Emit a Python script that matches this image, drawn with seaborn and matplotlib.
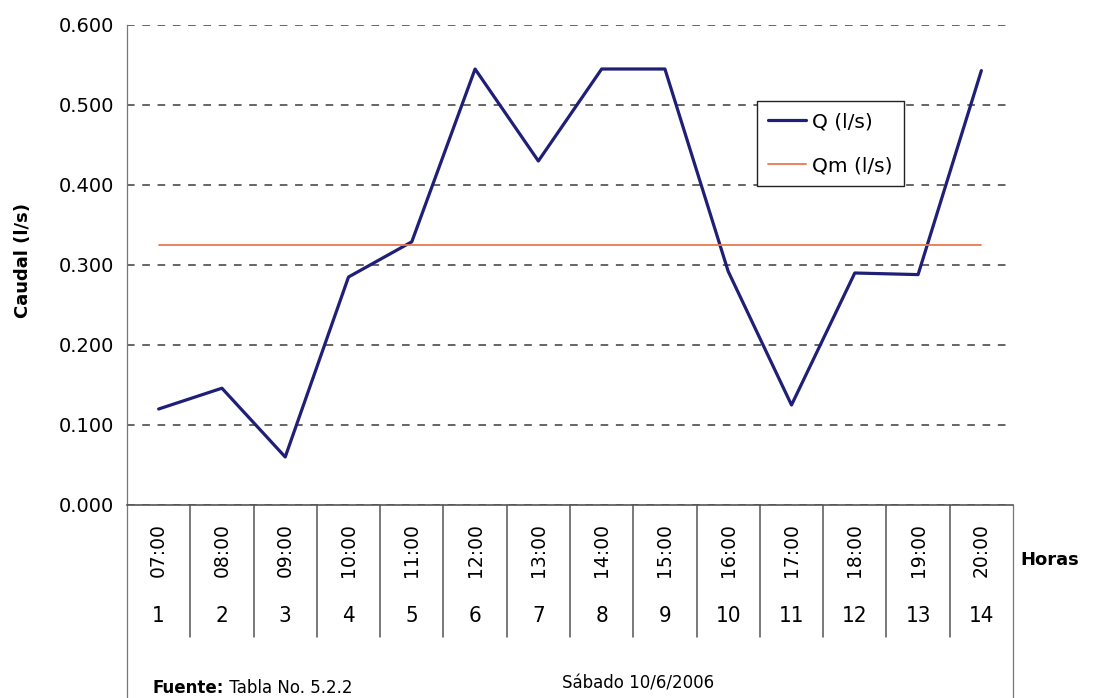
import matplotlib
matplotlib.use("Agg")
import pandas as pd
import matplotlib.pyplot as plt
import matplotlib.transforms as mtransforms
import seaborn as sns

# ----------------------
# Data
# ----------------------

hour_numbers = list(range(1, 15))
hour_labels = ["07:00", "08:00", "09:00", "10:00", "11:00", "12:00", "13:00",
               "14:00", "15:00", "16:00", "17:00", "18:00", "19:00", "20:00"]
q_values = [0.120, 0.146, 0.060, 0.285, 0.329, 0.545, 0.430,
            0.545, 0.545, 0.292, 0.125, 0.290, 0.288, 0.543]
qm_values = [0.325, 0.325, 0.325, 0.325, 0.325, 0.325, 0.325,
             0.325, 0.325, 0.325, 0.325, 0.325, 0.325, 0.325]
y_ticks = [0.0, 0.1, 0.2, 0.3, 0.4, 0.5, 0.6]

df = pd.DataFrame({"hora": hour_numbers, "Q": q_values, "Qm": qm_values})

# ----------------------
# Figure
# ----------------------

sns.set_style("white")
plt.rcParams["font.family"] = ["DejaVu Sans"]
plt.rcParams["text.color"] = "black"
plt.rcParams["ytick.labelcolor"] = "black"

W, H = 1094, 698
fig = plt.figure(figsize=(W / 100, H / 100), dpi=100)
ax = fig.add_axes([127 / W, (H - 505) / H, (1013 - 127) / W, 480 / H])

sns.lineplot(data=df, x="hora", y="Q", color="#1f1f78", linewidth=2.3,
             label="Q (l/s)", ax=ax)
sns.lineplot(data=df, x="hora", y="Qm", color="#e67a4e", linewidth=1.3,
             label="Qm (l/s)", ax=ax)

ax.set_xlim(0.5, 14.5)
ax.set_ylim(0, 0.6)
ax.set_yticks(y_ticks)
ax.set_yticklabels([f"{v:.3f}" for v in y_ticks], fontsize=14, color="black")
ax.set_xticks([])
ax.set_xlabel("")
ax.set_ylabel("")

# dashed horizontal gridlines
ax.yaxis.grid(True, linestyle=(0, (5, 5)), color="#3c3c3c", linewidth=1.1)
ax.set_axisbelow(True)
ax.tick_params(axis="y", direction="out", length=5, width=1, color="#4a4a4a", pad=4)

for side in ["top", "right"]:
    ax.spines[side].set_visible(False)
ax.spines["left"].set_color("#777777")
ax.spines["left"].set_linewidth(0.9)
ax.spines["bottom"].set_color("#555555")
ax.spines["bottom"].set_linewidth(1.2)

# legend
leg = ax.legend(loc="upper left", bbox_to_anchor=(757 / W, (H - 101) / H),
                bbox_transform=fig.transFigure, borderaxespad=0,
                fontsize=14.5, frameon=True, fancybox=False, framealpha=1,
                edgecolor="#222222", handlelength=1.9, handletextpad=0.3,
                labelspacing=1.25, borderpad=0.55)
leg.get_frame().set_linewidth(1.0)
for txt in leg.get_texts():
    txt.set_color("black")

# ----------------------
# Table under the axis
# ----------------------

trans = mtransforms.blended_transform_factory(ax.transData, fig.transFigure)
sep_bottom = (H - 637) / H
for k in range(1, 14):
    ax.plot([k + 0.5, k + 0.5], [(H - 505) / H, sep_bottom], transform=trans,
            color="#555555", linewidth=1.1, clip_on=False)
for xb in [0.5, 14.5]:
    ax.plot([xb, xb], [(H - 505) / H, 0], transform=trans,
            color="#777777", linewidth=0.9, clip_on=False)

for num, lab in zip(hour_numbers, hour_labels):
    ax.text(num, (H - 550) / H, lab, transform=trans, rotation=90,
            ha="center", va="center", fontsize=13.5)
    ax.text(num, (H - 616) / H, str(num), transform=trans,
            ha="center", va="center", fontsize=16, fontstretch="condensed")

fig.text(1020 / W, (H - 560) / H, "Horas", ha="left", va="center",
         fontsize=13, fontweight="bold")
fig.text(23 / W, (H - 260) / H, "Caudal (l/s)", rotation=90, ha="center",
         va="center", fontsize=13, fontweight="bold")

t1 = fig.text(153 / W, 1 / H, "Fuente:", ha="left", va="bottom",
              fontsize=12, fontweight="bold")
ax.annotate(" Tabla No. 5.2.2", xy=(1, 0), xycoords=t1, ha="left",
            va="bottom", fontsize=12)
fig.text(638 / W, (H - 683) / H, "Sábado 10/6/2006", ha="center",
         va="center", fontsize=12)

fig.savefig("out.png", dpi=100)
